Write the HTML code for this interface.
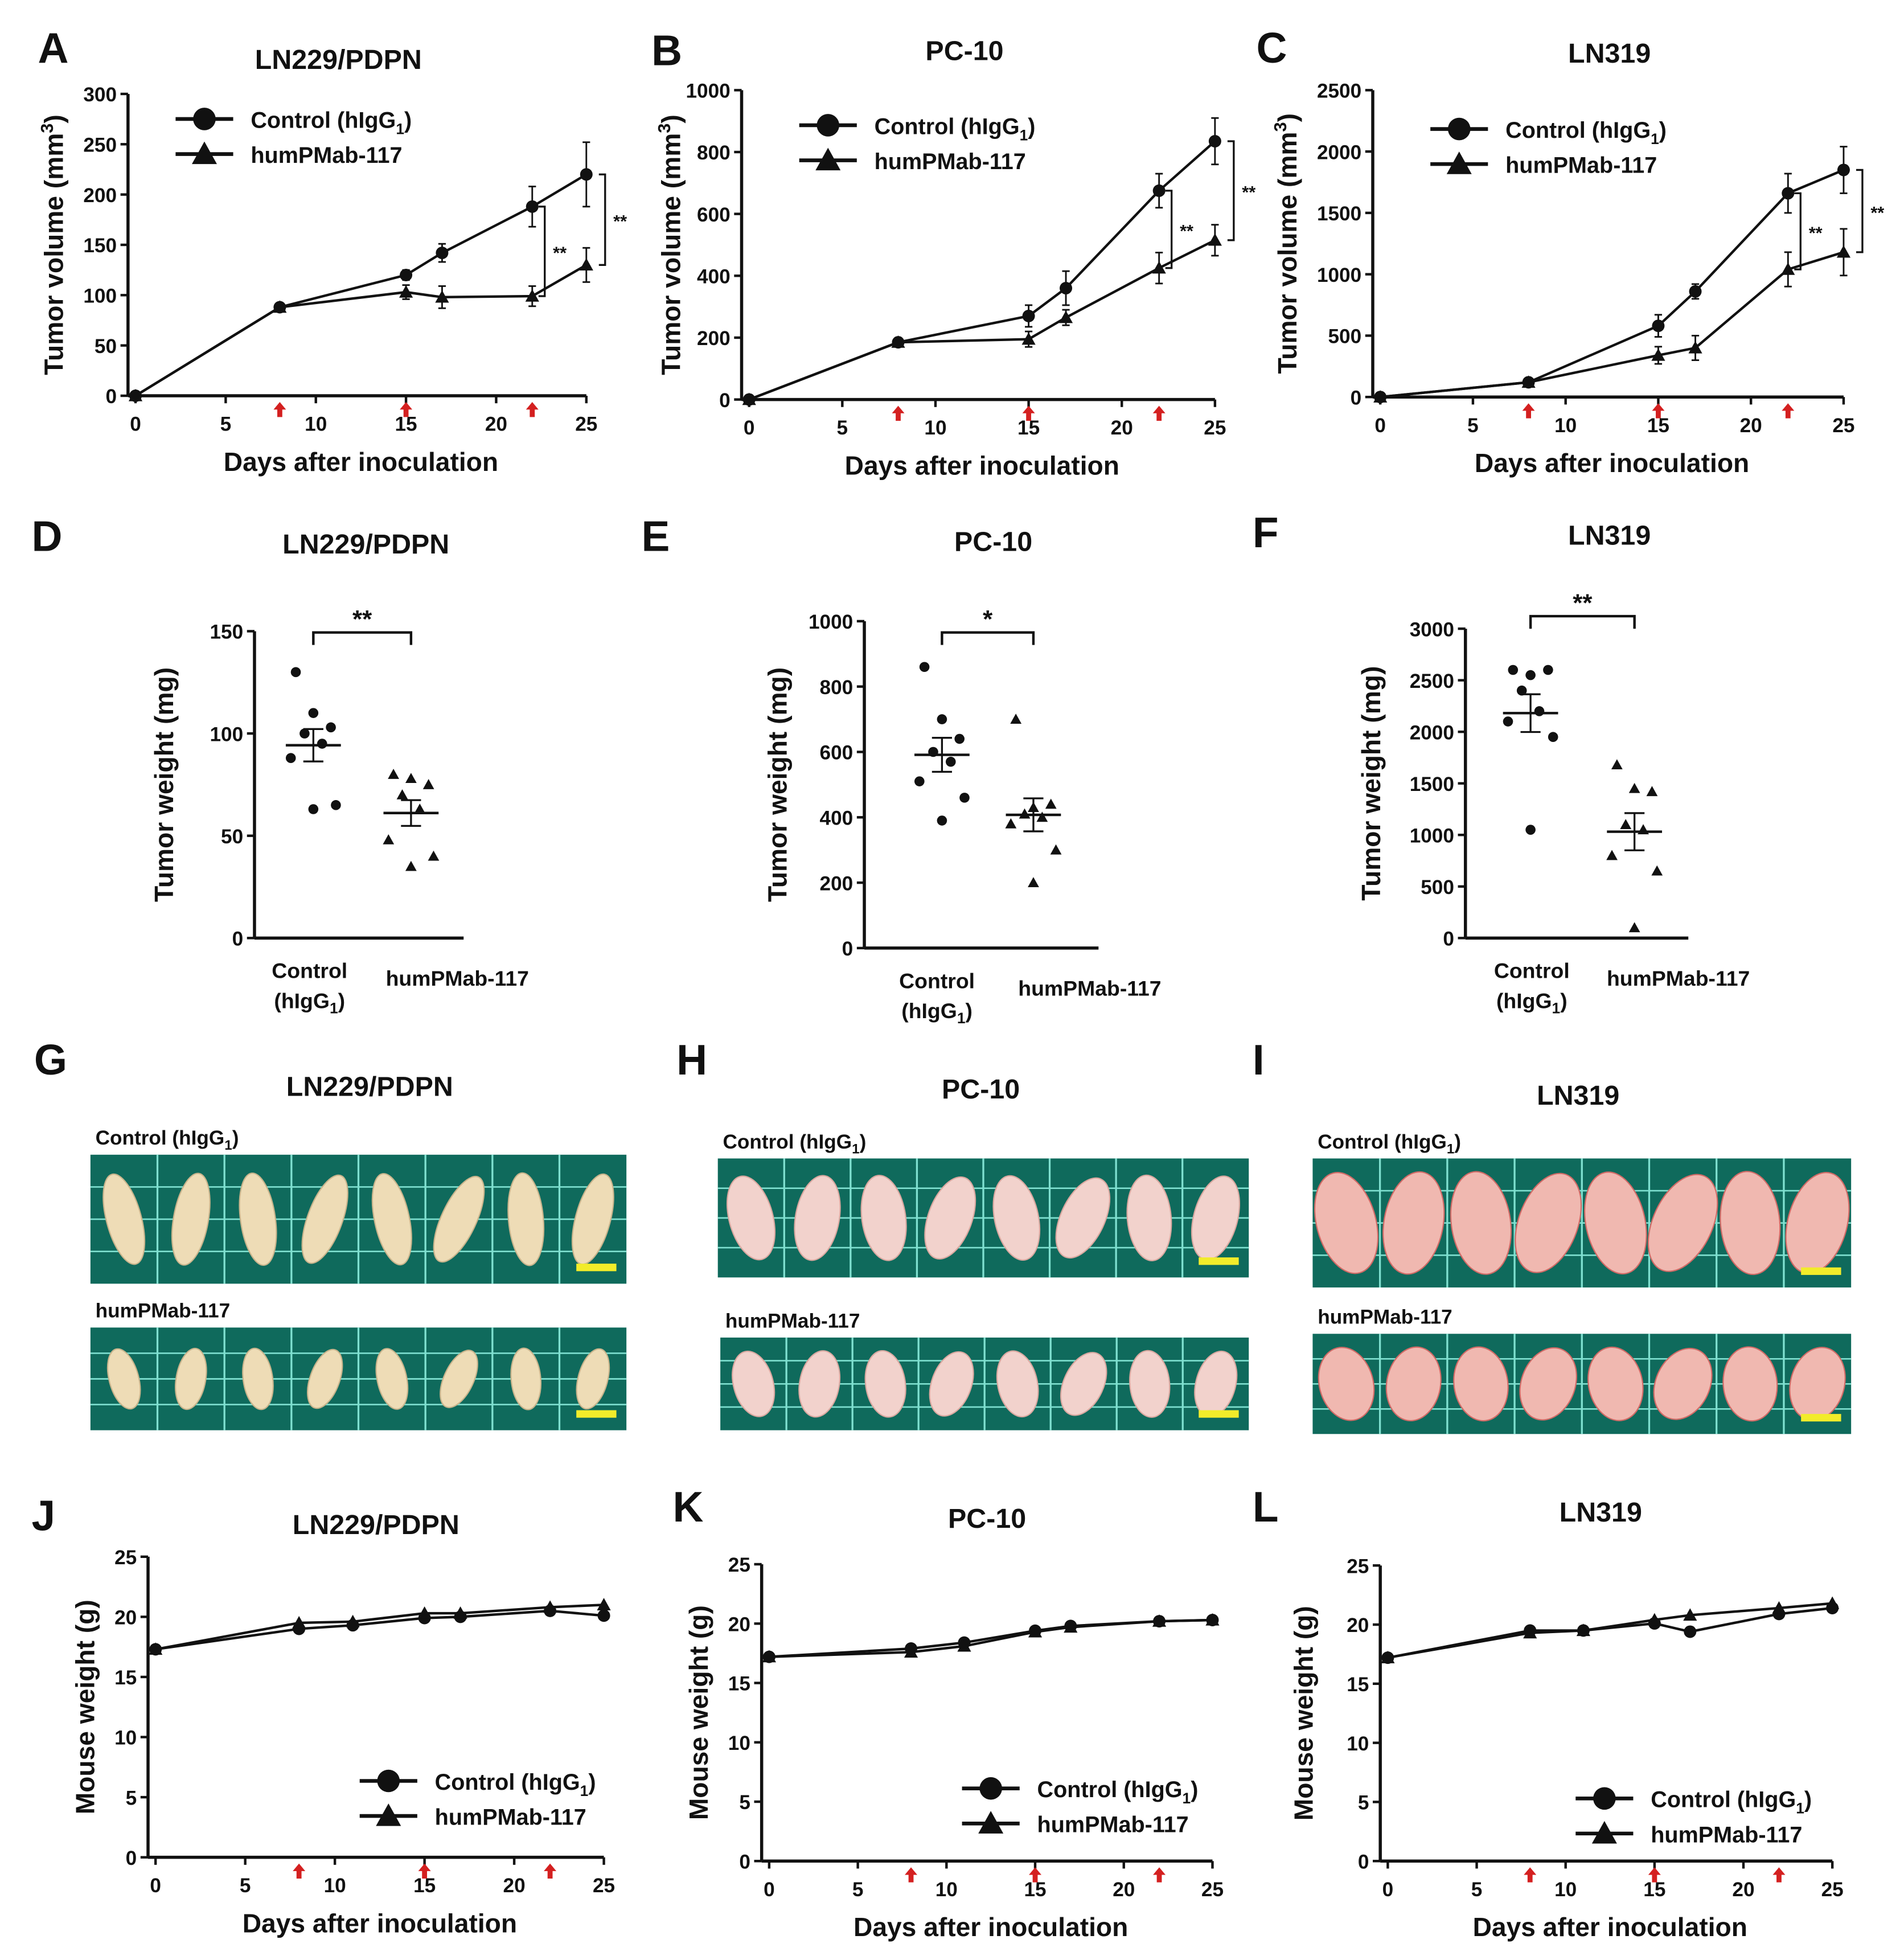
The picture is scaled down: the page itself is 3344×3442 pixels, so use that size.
<!DOCTYPE html>
<html><head><meta charset="utf-8">
<style>
html,body{margin:0;padding:0;background:#fff;}
svg{display:block;font-family:"Liberation Sans",Arial,sans-serif;}
text{fill:#111;}
</style></head>
<body>
<svg id="fig" width="3344" height="3442" viewBox="0 0 1520 1565" xmlns="http://www.w3.org/2000/svg">
<g id="root"></g>
</svg>
<script>
// ---------- Data ----------
const volDays = [0, 8, 15, 17, 22, 25];
const volA_ctrl = [0, 88, 120, 142, 188, 220];
const volA_ctrlErr = [0, 4, 5, 9, 20, 32];
const volA_hum = [0, 88, 103, 98, 99, 130];
const volA_humErr = [0, 4, 7, 11, 10, 17];
const volB_ctrl = [0, 185, 270, 360, 675, 835];
const volB_ctrlErr = [0, 10, 35, 55, 55, 75];
const volB_hum = [0, 185, 195, 265, 425, 515];
const volB_humErr = [0, 10, 25, 25, 50, 50];
const volC_ctrl = [0, 120, 580, 860, 1660, 1850];
const volC_ctrlErr = [0, 15, 90, 60, 160, 190];
const volC_hum = [0, 120, 340, 400, 1040, 1180];
const volC_humErr = [0, 15, 70, 100, 140, 190];

const wD_ctrl = [130, 110, 103, 100, 95, 88, 65, 63];
const wD_hum = [80, 78, 75, 70, 63, 48, 40, 35];
const wE_ctrl = [860, 700, 640, 600, 570, 510, 460, 390];
const wE_hum = [700, 430, 440, 410, 400, 380, 300, 200];
const wF_ctrl = [2600, 2550, 2600, 2400, 2200, 2100, 1950, 1050];
const wF_hum = [1680, 1450, 1420, 1100, 1050, 800, 650, 100];

const mwDays = [0, 8, 11, 15, 17, 22, 25];
const mwJ_ctrl = [17.3, 19.0, 19.3, 19.9, 20.0, 20.5, 20.1];
const mwJ_hum = [17.3, 19.5, 19.6, 20.3, 20.3, 20.8, 21.0];
const mwK_ctrl = [17.2, 17.9, 18.4, 19.4, 19.8, 20.2, 20.3];
const mwK_hum = [17.2, 17.6, 18.1, 19.3, 19.7, 20.2, 20.3];
const mwL_ctrl = [17.2, 19.5, 19.5, 20.1, 19.4, 20.9, 21.4];
const mwL_hum = [17.2, 19.3, 19.5, 20.4, 20.8, 21.4, 21.8];

const dayTicks = [0, 5, 10, 15, 20, 25];
const dosingDays = [8, 15, 22];
const volTicksA = [0, 50, 100, 150, 200, 250, 300];
const volTicksB = [0, 200, 400, 600, 800, 1000];
const volTicksC = [0, 500, 1000, 1500, 2000, 2500];
const wTicksD = [0, 50, 100, 150];
const wTicksE = [0, 200, 400, 600, 800, 1000];
const wTicksF = [0, 500, 1000, 1500, 2000, 2500, 3000];
const mwTicks = [0, 5, 10, 15, 20, 25];

// ---------- helpers ----------
const NS = "http://www.w3.org/2000/svg";
const root = document.getElementById('root');
function mk(tag, attrs, parent, txt) {
  const e = document.createElementNS(NS, tag);
  for (const k in attrs) e.setAttribute(k, attrs[k]);
  if (txt !== undefined) e.textContent = txt;
  (parent || root).appendChild(e);
  return e;
}
function line(x1,y1,x2,y2,w,p){return mk('line',{x1,y1,x2,y2,stroke:'#111','stroke-width':w||2},p);}
function txt(x,y,s,size,anchor,p,weight){return mk('text',{x,y,'font-size':size,'text-anchor':anchor||'middle','font-weight':weight||'bold'},p,s);}
function circ(x,y,r,p){return mk('circle',{cx:x,cy:y,r,fill:'#111'},p);}
function tri(x,y,s,p){return mk('polygon',{points:`${x},${y-s} ${x-s},${y+s*0.8} ${x+s},${y+s*0.8}`,fill:'#111'},p);}
function arrowUp(x,y,p){return mk('path',{d:`M${x},${y-6} L${x-5},${y} L${x-2},${y} L${x-2},${y+6} L${x+2},${y+6} L${x+2},${y} L${x+5},${y} Z`,fill:'#d42020'},p);}

function lineChart(cfg) {
  const g = mk('g', {});
  
  
  const sx = d => cfg.x0 + (d - 0) / 25 * (cfg.x1 - cfg.x0);
  const sy = v => cfg.y0 - v / cfg.ymax * (cfg.y0 - cfg.y1);
  const L = txt(cfg.lx, cfg.ly, cfg.letter, 34, 'start', g); 
  const T = txt(cfg.tx, cfg.ty, cfg.title, 22, 'middle', g); 
  const ax = cfg.x0 - 6;
  const ya = line(ax, sy(cfg.ymax), ax, cfg.y0, 2.5, g); 
  const xa = line(ax, cfg.y0, cfg.x1, cfg.y0, 2.5, g); 
  cfg.yticks.forEach(v => {
    line(ax - 6, sy(v), ax, sy(v), 2, g);
    const t = txt(ax - 9, sy(v) + 6, String(v), 16, 'end', g);
    
  });
  dayTicks.forEach(d => {
    line(sx(d), cfg.y0, sx(d), cfg.y0 + 6, 2, g);
    const t = txt(sx(d), cfg.y0 + 28, String(d), 16, 'middle', g);
    
  });
  dosingDays.forEach(d => { const a = arrowUp(sx(d), cfg.y0 + 11, g);  });
  const xt = txt((cfg.x0 + cfg.x1) / 2, cfg.y0 + 60, 'Days after inoculation', 21, 'middle', g);
  
  const ycx = cfg.ytx, ycy = (cfg.y0 + sy(cfg.ymax)) / 2;
  const yt = mk('text', {x: ycx, y: ycy, 'font-size': 21, 'font-weight': 'bold', 'text-anchor': 'middle', transform: `rotate(-90 ${ycx} ${ycy})`}, g);
  
  if (cfg.mm3) { yt.textContent = 'Tumor volume (mm'; mk('tspan', {dy: -8, 'font-size': 14}, yt, '3'); mk('tspan', {dy: 8}, yt, ')'); }
  else yt.textContent = 'Mouse weight (g)';
  const series = [[cfg.ctrl, cfg.ctrlErr, 'circle', 'series-control'], [cfg.hum, cfg.humErr, 'tri', 'series-humpmab']];
  series.forEach(([vals, errs, shape, nm]) => {
    const sg = mk('g', {}, g);
    
    
    const days = cfg.days;
    mk('polyline', {points: days.map((d, i) => sx(d) + ',' + sy(vals[i])).join(' '), fill: 'none', stroke: '#111', 'stroke-width': 2}, sg);
    days.forEach((d, i) => {
      if (errs && errs[i]) {
        const e1 = sy(vals[i] + errs[i]), e2 = sy(vals[i] - errs[i]);
        line(sx(d), e1, sx(d), e2, 1.3, sg); line(sx(d) - 3, e1, sx(d) + 3, e1, 1.3, sg); line(sx(d) - 3, e2, sx(d) + 3, e2, 1.3, sg);
      }
      const m = shape === 'circle' ? circ(sx(d), sy(vals[i]), 5, sg) : tri(sx(d), sy(vals[i]), 5.5, sg);
      
      
    });
  });
  if (cfg.sig) {
    const n = cfg.days.length;
    [[n - 2, 10, 'sig-bracket-day22'], [n - 1, 10, 'sig-bracket-day25']].forEach(([i, off, nm]) => {
      const bx = sx(cfg.days[i]) + off + (i === n - 1 ? 5 : 0);
      const ya2 = sy(cfg.ctrl[i]), yb = sy(cfg.hum[i]);
      const bg = mk('g', {}, g);  
      mk('polyline', {points: `${bx - 5},${ya2} ${bx},${ya2} ${bx},${yb} ${bx - 5},${yb}`, fill: 'none', stroke: '#111', 'stroke-width': 1.5}, bg);
      txt(bx + 12, (ya2 + yb) / 2 + 6, '**', 14, 'middle', bg);
    });
  }
  const lg = mk('g', {}, g);  
  [['circle', 'Control (hIgG', 0], ['tri', 'humPMab-117', 1]].forEach(([s, label, k]) => {
    const ly = cfg.legY + k * 28;
    const eg = mk('g', {}, lg);  
    line(cfg.legX, ly, cfg.legX + 46, ly, 3, eg);
    if (s === 'circle') circ(cfg.legX + 23, ly, 9, eg); else tri(cfg.legX + 23, ly, 10, eg);
    const t = txt(cfg.legX + 60, ly + 7, label, 18, 'start', eg);
    if (k === 0) { mk('tspan', {dy: 5, 'font-size': 12}, t, '1'); mk('tspan', {dy: -5}, t, ')'); }
  });
  return g;
}

function scatterChart(cfg) {
  const g = mk('g', {});
  
  
  const sy = v => cfg.y0 - v / cfg.ymax * (cfg.y0 - cfg.y1);
  const L = txt(cfg.lx, cfg.ly, cfg.letter, 34, 'start', g); 
  const T = txt(cfg.tx, cfg.ty, cfg.title, 22, 'middle', g); 
  const ya = line(cfg.ax, sy(cfg.ymax), cfg.ax, cfg.y0, 2.5, g); 
  const xa = line(cfg.ax, cfg.y0, cfg.axEnd, cfg.y0, 2.5, g); 
  cfg.yticks.forEach(v => {
    line(cfg.ax - 6, sy(v), cfg.ax, sy(v), 2, g);
    const t = txt(cfg.ax - 9, sy(v) + 6, String(v), 16, 'end', g);
    
  });
  const ycx = cfg.ytx, ycy = (cfg.y0 + sy(cfg.ymax)) / 2;
  const yt = mk('text', {x: ycx, y: ycy, 'font-size': 21, 'font-weight': 'bold', 'text-anchor': 'middle', transform: `rotate(-90 ${ycx} ${ycy})`}, g, 'Tumor weight (mg)');
  
  const c1 = txt(cfg.cx1, cfg.y0 + 32, 'Control', 17, 'middle', g); 
  const c2 = txt(cfg.cx1, cfg.y0 + 56, '(hIgG', 17, 'middle', g); mk('tspan', {dy: 4, 'font-size': 12}, c2, '1'); mk('tspan', {dy: -4}, c2, ')');
  
  const c3 = txt(cfg.cx2, cfg.y0 + 38, 'humPMab-117', 17, 'middle', g); 
  [[cfg.ctrl, cfg.px1, 'circle', 'group-control'], [cfg.hum, cfg.px2, 'tri', 'group-humpmab']].forEach(([vals, px, s, nm]) => {
    const sg = mk('g', {}, g);  
    const offs = [-14, 0, 14, -7, 7, -18, 18, 0];
    vals.forEach((v, i) => {
      const x = px + offs[i % offs.length];
      const m = s === 'circle' ? circ(x, sy(v), 4, sg) : tri(x, sy(v), 4.5, sg);
       
    });
    const mean = vals.reduce((a, b) => a + b, 0) / vals.length;
    const sd = Math.sqrt(vals.reduce((a, b) => a + (b - mean) ** 2, 0) / (vals.length - 1));
    const sem = sd / Math.sqrt(vals.length);
    const ml = line(px - 22, sy(mean), px + 22, sy(mean), 2, sg); 
    line(px, sy(mean + sem), px, sy(mean - sem), 1.5, sg);
    line(px - 8, sy(mean + sem), px + 8, sy(mean + sem), 1.5, sg);
    line(px - 8, sy(mean - sem), px + 8, sy(mean - sem), 1.5, sg);
  });
  const bg = mk('g', {}, g);  
  mk('polyline', {points: `${cfg.px1},${cfg.bY + 10} ${cfg.px1},${cfg.bY} ${cfg.px2},${cfg.bY} ${cfg.px2},${cfg.bY + 10}`, fill: 'none', stroke: '#111', 'stroke-width': 2}, bg);
  txt((cfg.px1 + cfg.px2) / 2, cfg.bY - 4, cfg.stars, 20, 'middle', bg);
}

function photo(cfg) {
  const g = mk('g', {});
  
  
  const L = txt(cfg.lx, cfg.ly, cfg.letter, 34, 'start', g); 
  const T = txt(cfg.tx, cfg.ty, cfg.title, 22, 'middle', g); 
  const tilts = [-15, 10, -8, 20, -12, 25, -5, 15];
  cfg.rows.forEach((r, ri) => {
    const lab = txt(r.x + 4, r.y - 8, ri === 0 ? 'Control (hIgG' : 'humPMab-117', 16, 'start', g);
    if (ri === 0) { mk('tspan', {dy: 4, 'font-size': 11}, lab, '1'); mk('tspan', {dy: -4}, lab, ')'); }
     
    const pg = mk('g', {}, g);  
    mk('rect', {x: r.x, y: r.y, width: r.w, height: r.h, fill: '#0f6a5c'}, pg);
    const cell = r.w / 8;
    for (let i = 1; i < 8; i++) mk('line', {x1: r.x + i * cell, y1: r.y, x2: r.x + i * cell, y2: r.y + r.h, stroke: '#7fe0d0', 'stroke-width': 1.5}, pg);
    for (let j = 1; j < 4; j++) mk('line', {x1: r.x, y1: r.y + j * r.h / 4, x2: r.x + r.w, y2: r.y + j * r.h / 4, stroke: '#7fe0d0', 'stroke-width': 1.2}, pg);
    for (let i = 0; i < 8; i++) {
      const cx = r.x + (i + 0.5) * cell, cy = r.y + r.h / 2;
      mk('ellipse', {cx, cy, rx: cell * r.sz[0], ry: r.h * r.sz[1], fill: cfg.color, stroke: cfg.edge, 'stroke-width': 1, transform: `rotate(${tilts[i]} ${cx} ${cy})`}, pg);
    }
    mk('rect', {x: r.x + r.w - 40, y: r.y + r.h - 16, width: 32, height: 6, fill: '#f2ec2a'}, pg);
  });
}

// ---------- build ----------
lineChart({name:'chart-a-tumor-volume', letter:'A', lx:30, ly:50, title:'LN229/PDPN', tx:270, ty:55, x0:108, x1:468, y0:316, y1:75, ymax:300, yticks:volTicksA, days:volDays, ctrl:volA_ctrl, ctrlErr:volA_ctrlErr, hum:volA_hum, humErr:volA_humErr, sig:true, legX:140, legY:95, ytx:50, mm3:true});
lineChart({name:'chart-b-tumor-volume', letter:'B', lx:520, ly:52, title:'PC-10', tx:770, ty:48, x0:598, x1:970, y0:319, y1:72, ymax:1000, yticks:volTicksB, days:volDays, ctrl:volB_ctrl, ctrlErr:volB_ctrlErr, hum:volB_hum, humErr:volB_humErr, sig:true, legX:638, legY:100, ytx:543, mm3:true});
lineChart({name:'chart-c-tumor-volume', letter:'C', lx:1003, ly:50, title:'LN319', tx:1285, ty:50, x0:1102, x1:1472, y0:317, y1:72, ymax:2500, yticks:volTicksC, days:volDays, ctrl:volC_ctrl, ctrlErr:volC_ctrlErr, hum:volC_hum, humErr:volC_humErr, sig:true, legX:1142, legY:103, ytx:1035, mm3:true});

scatterChart({name:'chart-d-tumor-weight', letter:'D', lx:25, ly:440, title:'LN229/PDPN', tx:292, ty:442, ax:203, axEnd:370, y0:749, y1:504, ymax:150, yticks:wTicksD, ctrl:wD_ctrl, hum:wD_hum, px1:250, px2:328, cx1:247, cx2:365, bY:505, stars:'**', ytx:138});
scatterChart({name:'chart-e-tumor-weight', letter:'E', lx:512, ly:440, title:'PC-10', tx:793, ty:440, ax:690, axEnd:877, y0:757, y1:496, ymax:1000, yticks:wTicksE, ctrl:wE_ctrl, hum:wE_hum, px1:752, px2:825, cx1:748, cx2:870, bY:505, stars:'*', ytx:628});
scatterChart({name:'chart-f-tumor-weight', letter:'F', lx:1000, ly:437, title:'LN319', tx:1285, ty:435, ax:1170, axEnd:1348, y0:749, y1:502, ymax:3000, yticks:wTicksF, ctrl:wF_ctrl, hum:wF_hum, px1:1222, px2:1305, cx1:1223, cx2:1340, bY:492, stars:'**', ytx:1102});

photo({name:'photo-g', letter:'G', lx:27, ly:858, title:'LN229/PDPN', tx:295, ty:875, color:'#eedcb6', edge:'#c8b48c', rows:[{x:72,y:922,w:428,h:103,sz:[0.26,0.36]},{x:72,y:1060,w:428,h:82,sz:[0.22,0.3]}]});
photo({name:'photo-h', letter:'H', lx:540, ly:858, title:'PC-10', tx:783, ty:877, color:'#f2d2cc', edge:'#d9a8a0', rows:[{x:573,y:925,w:424,h:95,sz:[0.33,0.36]},{x:575,y:1068,w:422,h:74,sz:[0.3,0.36]}]});
photo({name:'photo-i', letter:'I', lx:1000, ly:858, title:'LN319', tx:1260, ty:882, color:'#f0b8b0', edge:'#d06a66', rows:[{x:1048,y:925,w:430,h:103,sz:[0.44,0.4]},{x:1048,y:1065,w:430,h:80,sz:[0.4,0.37]}]});

lineChart({name:'chart-j-mouse-weight', letter:'J', lx:25, ly:1222, title:'LN229/PDPN', tx:300, ty:1225, x0:124, x1:482, y0:1483, y1:1243, ymax:25, yticks:mwTicks, days:mwDays, ctrl:mwJ_ctrl, ctrlErr:null, hum:mwJ_hum, humErr:null, sig:false, legX:287, legY:1422, ytx:75, mm3:false});
lineChart({name:'chart-k-mouse-weight', letter:'K', lx:537, ly:1215, title:'PC-10', tx:788, ty:1220, x0:614, x1:968, y0:1486, y1:1249, ymax:25, yticks:mwTicks, days:mwDays, ctrl:mwK_ctrl, ctrlErr:null, hum:mwK_hum, humErr:null, sig:false, legX:768, legY:1428, ytx:565, mm3:false});
lineChart({name:'chart-l-mouse-weight', letter:'L', lx:1000, ly:1215, title:'LN319', tx:1278, ty:1215, x0:1108, x1:1463, y0:1486, y1:1250, ymax:25, yticks:mwTicks, days:mwDays, ctrl:mwL_ctrl, ctrlErr:null, hum:mwL_hum, humErr:null, sig:false, legX:1258, legY:1436, ytx:1048, mm3:false});
const star = txt(1108 + 17 / 25 * 355, 1486 - 18.6 / 25 * 236, '*', 16, 'middle');


</script>
</body></html>
